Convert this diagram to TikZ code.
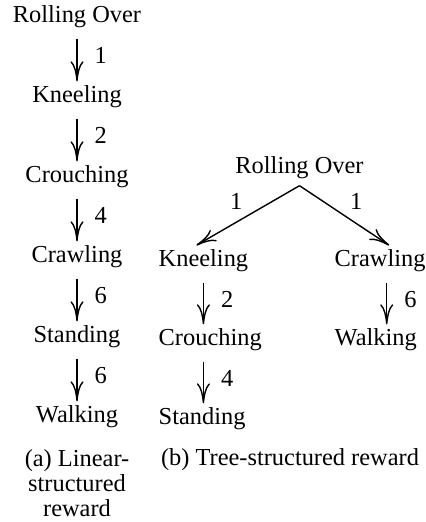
\documentclass[tikz,border=0pt]{standalone}
\usepackage{fontspec}
\setmainfont{Liberation Serif}
\usetikzlibrary{arrows.meta}

\begin{document}
\begin{tikzpicture}[x=0.5pt, y=0.5pt, >={Computer Modern Rightarrow[length=10pt,width=6.5pt]},
    line width=0.7pt, font=\fontsize{12.2pt}{12.5pt}\selectfont,
    state/.style={inner sep=0pt, text height=10.5pt, text depth=7.5pt, anchor=base},
    weight/.style={pos=0.4, right, inner sep=0pt, xshift=8.5pt}]
  \useasboundingbox (0,0) rectangle (426,522);

  % (a) linear chain
  \foreach \name/\txt [count=\i] in {rollA/Rolling Over, kneelA/Kneeling, crouchA/Crouching,
      crawlA/Crawling, standA/Standing, walkA/Walking}
    \node[state] (\name) at (77,{499-80*(\i-1)}) {\txt};
  \foreach \a/\b/\w in {rollA/kneelA/1, kneelA/crouchA/2, crouchA/crawlA/4,
      crawlA/standA/6, standA/walkA/6}
    \draw[->] (\a.south) -- (\b.north) node[weight] {\w};

  % (b) tree
  \node[state] (rollR) at (299.5,348) {Rolling Over};
  \node[state, anchor=base west] (kneelR) at (158,255) {Kneeling};
  \node[state, anchor=base west] (crouchR) at (158,176) {Crouching};
  \node[state, anchor=base west] (standR) at (158,97) {Standing};
  \node[state, anchor=base west] (crawlR) at (334,255) {Crawling};
  \node[state, anchor=base west] (walkR) at (334,176) {Walking};

  \draw[->] ([yshift=2pt]rollR.south) -- ([xshift=-3.5pt]kneelR.north)
    node[midway, above left, inner sep=2.5pt] {1};
  \draw[->] ([yshift=2pt]rollR.south) -- ([xshift=4.5pt]crawlR.north)
    node[midway, above right, inner sep=2.5pt] {1};
  \draw[->] (kneelR.south) -- (kneelR.south |- crouchR.north) node[weight] {2};
  \draw[->] (crouchR.south -| kneelR.south) -- (kneelR.south |- standR.north) node[weight] {4};
  \draw[->] ([xshift=3.3pt]crawlR.south) -- ([xshift=3.3pt]crawlR.south |- walkR.north)
    node[weight] {6};

  % captions
  \node[align=center, anchor=base] (capA) at (77,5) {(a) Linear-\\structured\\reward};
  \node[anchor=base] (capB) at (290,56) {(b) Tree-structured reward};
\end{tikzpicture}
\end{document}
